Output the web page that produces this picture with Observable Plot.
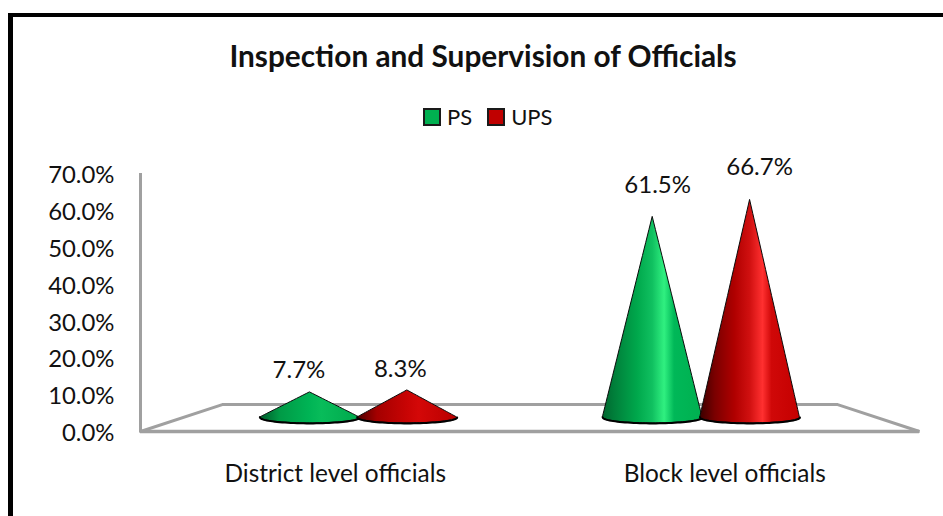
<!DOCTYPE html>
<html>
<head>
<meta charset="utf-8">
<script src="https://cdn.jsdelivr.net/npm/d3@7"></script>
<script src="https://cdn.jsdelivr.net/npm/@observablehq/plot@0.6"></script>
<style>
  html, body { margin: 0; padding: 0; background: #fff; }
  body { width: 943px; height: 516px; overflow: hidden; position: relative; font-family: Lato, sans-serif; color: #111; }
  #frame { position: absolute; left: 8px; top: 13px; right: 0; bottom: -10px; border-left: 5px solid #000; border-top: 4px solid #000; }
  #head { position: relative; height: 150px; }
  #title { position: absolute; left: 0; width: 966px; top: 38px; text-align: center; font-weight: 700; font-size: 29.8px; line-height: 36px; }
  #legend { position: absolute; top: 104px; left: 423px; display: flex; align-items: center; font-size: 22px; line-height: 26px; }
  #legend i { display: inline-block; box-sizing: border-box; width: 18px; height: 18px; border: 2px solid #1a1a1a; margin-right: 6px; }
  #legend span { margin-right: 15px; }
  #chart { position: relative; }
  svg { display: block; overflow: visible; }
</style>
</head>
<body>
<div id="frame"></div>
<div id="head">
  <div id="title"></div>
  <div id="legend"></div>
</div>
<div id="chart"></div>
<script>
const titleText = "Inspection and Supervision of Officials";
const categories = ["District level officials", "Block level officials"];
const seriesNames = ["PS", "UPS"];
const ps = [7.7, 61.5];
const ups = [8.3, 66.7];
const yTicks = [0, 10, 20, 30, 40, 50, 60, 70];

const swatch = {PS: "#00b050", UPS: "#c00000"};
document.getElementById("title").textContent = titleText;
document.getElementById("legend").innerHTML = seriesNames
  .map(s => `<i style="background:${swatch[s]}"></i><span>${s}</span>`).join("");

// 3D projection of the chart's box: things standing in the middle of the floor
const depthX = 0.88, depthY = 0.885, floorLift = 3.8;
const coneHalfWidth = 0.128, coneOffset = 0.125, ellipseMinor = 1.6;
const backInset = 0.21, backLift = 7.3;

const fmt = v => v.toFixed(1) + "%";
const centre = (i, s) => 1 + (i + 0.5 - 1) * depthX + (s === 0 ? -coneOffset : coneOffset);
const angles = d3.range(0, 1.0001, 1 / 48).map(t => Math.PI * t);

function coneOutline(cx, value) {
  const tip = floorLift + value * depthY;
  // walks left to right: lower edge is the base ellipse, upper edge the cone sides
  return angles.map(a => {
    const x = cx - coneHalfWidth * Math.cos(a);
    const side = 1 - Math.abs(x - cx) / coneHalfWidth;
    return {x, y1: floorLift - ellipseMinor * Math.sin(a), y2: floorLift + (tip - floorLift) * side};
  });
}

const cones = [];
categories.forEach((c, i) => {
  [ps, ups].forEach((vals, s) => cones.push({i, s, cx: centre(i, s), value: vals[i], tall: vals[i] > 30}));
});

const gradients = () => {
  const stops = {
    "g-tall": [[0,"#00662f"],[.12,"#007f3a"],[.35,"#00a84c"],[.5,"#10c060"],[.62,"#30f080"],[.72,"#00b858"],[1,"#00b050"]],
    "r-tall": [[0,"#3a0000"],[.15,"#7a0000"],[.35,"#b00000"],[.5,"#d01010"],[.63,"#ff3030"],[.72,"#d00808"],[1,"#c40000"]],
    "g-low": [[0,"#00592a"],[.2,"#009a46"],[.5,"#00b455"],[.62,"#08bc5a"],[1,"#00a84c"]],
    "r-low": [[0,"#4c0000"],[.2,"#a40000"],[.5,"#c80404"],[.62,"#d40808"],[1,"#b80000"]]
  };
  const defs = d3.create("svg:defs");
  Object.entries(stops).forEach(([id, list]) => {
    const g = defs.append("linearGradient").attr("id", id);
    list.forEach(([o, col]) => g.append("stop").attr("offset", o).attr("stop-color", col));
  });
  return defs.node();
};

const floorColor = "#a0a0a0";
const floor = [
  {x: 0, y: 0}, {x: backInset, y: backLift}, {x: 2 - backInset, y: backLift}, {x: 2, y: 0}, {x: 0, y: 0}
];

const plot = Plot.plot({
  width: 943,
  height: 366,
  marginLeft: 140,
  marginRight: 24,
  marginTop: 23,
  marginBottom: 85,
  style: {fontFamily: "Lato, sans-serif", color: "#111", background: "transparent", overflow: "visible"},
  x: {domain: [0, 2], label: null, axis: null},
  y: {domain: [0, 70], label: null, axis: null},
  marks: [
    gradients,
    Plot.axisY({ticks: yTicks, tickFormat: fmt, tickSize: 0, tickPadding: 26, label: null, fontSize: 23.9, dy: 2, textStroke: "none", color: "#111"}),
    Plot.axisX({ticks: [0.5, 1.5], tickFormat: d => categories[d < 1 ? 0 : 1], tickSize: 0, tickPadding: 33, label: null, fontSize: 24.4}),
    Plot.ruleX([0], {y1: 0, y2: 70, stroke: floorColor, strokeWidth: 3}),
    Plot.line(floor, {x: "x", y: "y", stroke: floorColor, strokeWidth: 3, strokeLinejoin: "miter"}),
    Plot.ruleY([0], {stroke: floorColor, strokeWidth: 3.5}),
    ...cones.flatMap(c => {
      const pts = coneOutline(c.cx, c.value);
      const grad = (c.s === 0 ? "g" : "r") + (c.tall ? "-tall" : "-low");
      return [
        Plot.areaY(pts, {x: "x", y1: "y1", y2: "y2", fill: `url(#${grad})`, stroke: "#0a0a0a", strokeWidth: 1}),
        Plot.line(pts, {x: "x", y: "y1", stroke: "#000", strokeWidth: 2})
      ];
    }),
    ...cones.map((c, idx) => {
      const dx = [-11, -7, 5, 9.5][idx];
      const dy = [-22, -21, -32, -33][idx];
      return Plot.text([c], {
        x: "cx",
        y: d => floorLift + d.value * depthY,
        text: d => fmt(d.value),
        dx, dy,
        fontSize: 24,
        fill: "#111"
      });
    })
  ]
});
document.getElementById("chart").appendChild(plot);
</script>
</body>
</html>
